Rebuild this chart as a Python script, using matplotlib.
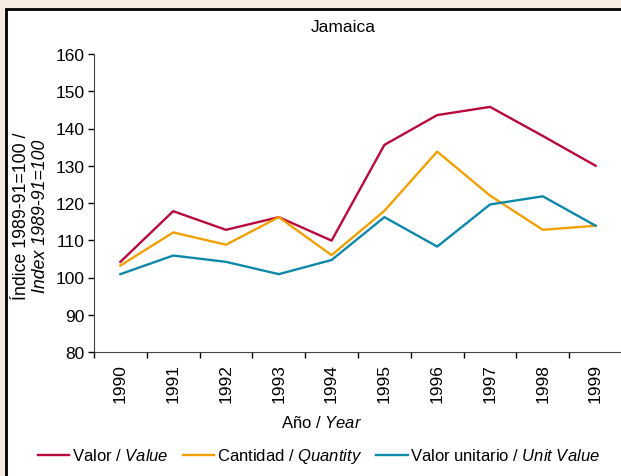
import matplotlib
matplotlib.use('Agg')
import matplotlib.pyplot as plt
from matplotlib.patches import Rectangle
import numpy as np

plt.rcParams['font.family'] = ['Liberation Sans', 'DejaVu Sans']
plt.rcParams['mathtext.fontset'] = 'custom'
plt.rcParams['mathtext.rm'] = 'Liberation Sans'
plt.rcParams['mathtext.it'] = 'Liberation Sans:italic'

# data
years = ['1990', '1991', '1992', '1993', '1994', '1995', '1996', '1997', '1998', '1999']
valor = [104.2, 117.8, 112.8, 116.2, 109.9, 135.6, 143.6, 145.8, 138.0, 130.0]
cantidad = [103.2, 112.1, 108.8, 116.2, 106.0, 117.9, 133.8, 122.0, 112.8, 113.9]
unitario = [100.9, 105.9, 104.2, 100.9, 104.7, 116.2, 108.3, 119.6, 121.8, 113.9]

c_valor = '#B8093F'
c_cant = '#F0A000'
c_unit = '#0E88A8'

fig = plt.figure(figsize=(6.21, 4.77), dpi=100, facecolor='#F6EBE0')

# white panel with black border
fig.patches.append(Rectangle((5.5 / 621, -0.05), 1.1, 1 - 9.5 / 477 + 0.05,
                             transform=fig.transFigure, facecolor='white',
                             edgecolor='black', linewidth=2, zorder=-10))

ax = fig.add_axes([94 / 621, 1 - 353 / 477, 528 / 621, (353 - 55) / 477])
ax.set_facecolor('none')

x = np.arange(len(years))
ax.plot(x, valor, color=c_valor, lw=1.7, label='Valor / $\\it{Value}$')
ax.plot(x, cantidad, color=c_cant, lw=1.7, label='Cantidad / $\\it{Quantity}$')
ax.plot(x, unitario, color=c_unit, lw=1.7, label='Valor unitario / $\\it{Unit\\ Value}$')

ax.set_xlim(-0.5, 9.5)
ax.set_ylim(80, 160)
ax.set_yticks(range(80, 161, 10))
ax.set_xticks(x)
ax.set_xticklabels(years, rotation=90, fontsize=12.5)
ax.set_xticks(np.arange(-0.5, 9.6, 1), minor=True)
ax.tick_params(axis='x', which='major', length=0, pad=8)
ax.tick_params(axis='x', which='minor', length=4, width=1)
ax.tick_params(axis='y', length=4, width=1, labelsize=12.5, pad=3)

for s in ['top', 'right']:
    ax.spines[s].set_visible(False)
ax.spines['left'].set_color('#444444')
ax.spines['bottom'].set_color('#444444')

fig.text(322 / 621, 1 - 423 / 477, 'Año / $\\it{Year}$', ha='center', va='center',
         fontsize=12)
fig.text(22 / 621, 1 - 216 / 477, 'Índice 1989-91=100 /', rotation=90,
         ha='center', va='center', fontsize=12.8)
fig.text(41 / 621, 1 - 216 / 477, 'Index 1989-91=100', rotation=90,
         ha='center', va='center', fontsize=12.8, style='italic')
fig.text(343 / 621, 1 - 27 / 477, 'Jamaica', ha='center', va='center', fontsize=12.5)

fig.legend(loc='center', bbox_to_anchor=(319 / 621, 1 - 457 / 477), ncol=3,
           frameon=False, fontsize=12, handlelength=1.9, handletextpad=0.15,
           columnspacing=0.85)

fig.savefig('out.png', dpi=100, facecolor=fig.get_facecolor())
